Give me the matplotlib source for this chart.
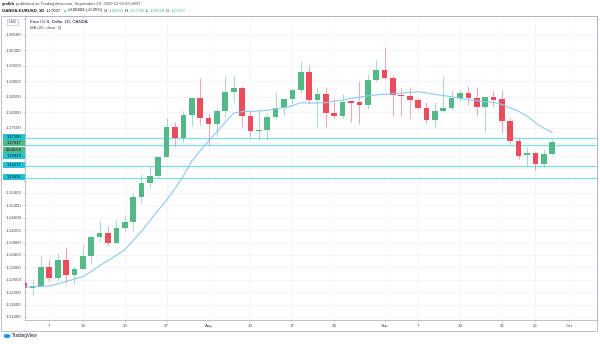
import matplotlib.pyplot as plt
from matplotlib.patches import Rectangle, Ellipse
import numpy as np

# ---- data ----
dates = ['Jul 2', 'Jul 3', 'Jul 6', 'Jul 7', 'Jul 8', 'Jul 9', 'Jul 10', 'Jul 13', 'Jul 14',
         'Jul 15', 'Jul 16', 'Jul 17', 'Jul 20', 'Jul 21', 'Jul 22', 'Jul 23', 'Jul 24',
         'Jul 27', 'Jul 28', 'Jul 29', 'Jul 30', 'Jul 31', 'Aug 3', 'Aug 4', 'Aug 5', 'Aug 6',
         'Aug 7', 'Aug 10', 'Aug 11', 'Aug 12', 'Aug 13', 'Aug 14', 'Aug 17', 'Aug 18',
         'Aug 19', 'Aug 20', 'Aug 21', 'Aug 24', 'Aug 25', 'Aug 26', 'Aug 27', 'Aug 28',
         'Aug 31', 'Sep 1', 'Sep 2', 'Sep 3', 'Sep 4', 'Sep 7', 'Sep 8', 'Sep 9', 'Sep 10',
         'Sep 11', 'Sep 14', 'Sep 15', 'Sep 16', 'Sep 17', 'Sep 18', 'Sep 21', 'Sep 22',
         'Sep 23', 'Sep 24', 'Sep 25', 'Sep 28', 'Sep 29']
future_dates = ['Sep 30', 'Oct 1']

opens = [1.1248, 1.1232, 1.1240, 1.1302, 1.1266, 1.1325, 1.1276, 1.1294, 1.1338, 1.1397,
         1.1410, 1.1380, 1.1426, 1.1445, 1.1526, 1.1571, 1.1596, 1.1656, 1.1752, 1.1716,
         1.1792, 1.1847, 1.1781, 1.1763, 1.1804, 1.1865, 1.1879, 1.1788, 1.1739, 1.1742,
         1.1785, 1.1815, 1.1842, 1.1872, 1.1931, 1.1839, 1.1860, 1.1799, 1.1788, 1.1836,
         1.1833, 1.1823, 1.1903, 1.1935, 1.1912, 1.1856, 1.1852, 1.1839, 1.1815, 1.1774,
         1.1804, 1.1815, 1.1847, 1.1863, 1.1847, 1.1817, 1.1849, 1.1843, 1.1772, 1.1707,
         1.1661, 1.1668, 1.1632, 1.1665]
highs = [1.1296, 1.1258, 1.1337, 1.1326, 1.1347, 1.1367, 1.1302, 1.1372, 1.1400, 1.1450,
         1.1434, 1.1452, 1.1468, 1.1540, 1.1600, 1.1626, 1.1660, 1.1781, 1.1770, 1.1805,
         1.1850, 1.1910, 1.1795, 1.1815, 1.1916, 1.1917, 1.1885, 1.1805, 1.1810, 1.1797,
         1.1865, 1.1839, 1.1874, 1.1966, 1.1952, 1.1883, 1.1883, 1.1842, 1.1858, 1.1838,
         1.1900, 1.1922, 1.1968, 1.2011, 1.1920, 1.1878, 1.1881, 1.1845, 1.1833, 1.1832,
         1.1917, 1.1873, 1.1871, 1.1886, 1.1883, 1.1850, 1.1873, 1.1871, 1.1782, 1.1717,
         1.1688, 1.1676, 1.1683, 1.17145]
lows = [1.1228, 1.1212, 1.1235, 1.1255, 1.1255, 1.1250, 1.1243, 1.1290, 1.1312, 1.1385,
        1.1370, 1.1378, 1.1418, 1.1421, 1.1506, 1.1555, 1.1590, 1.1655, 1.1690, 1.1705,
        1.1755, 1.1760, 1.1696, 1.1725, 1.1780, 1.1834, 1.1753, 1.1720, 1.1711, 1.1711,
        1.1783, 1.1788, 1.1828, 1.1862, 1.1826, 1.1753, 1.1753, 1.1783, 1.1780, 1.1769,
        1.1762, 1.1811, 1.1900, 1.1907, 1.1789, 1.1788, 1.1780, 1.1809, 1.1765, 1.1752,
        1.1800, 1.1807, 1.1835, 1.1822, 1.1787, 1.1737, 1.1821, 1.1732, 1.1698, 1.1650,
        1.1626, 1.1613, 1.1622, 1.16618]
closes = [1.1234, 1.1240, 1.1302, 1.1266, 1.1325, 1.1276, 1.1294, 1.1338, 1.1397, 1.1410,
          1.1380, 1.1426, 1.1445, 1.1526, 1.1571, 1.1596, 1.1656, 1.1752, 1.1716, 1.1792,
          1.1847, 1.1781, 1.1763, 1.1804, 1.1865, 1.1879, 1.1788, 1.1739, 1.1742, 1.1785,
          1.1815, 1.1842, 1.1872, 1.1931, 1.1839, 1.1860, 1.1799, 1.1788, 1.1834, 1.1831,
          1.1823, 1.1903, 1.1935, 1.1912, 1.1856, 1.1852, 1.1839, 1.1815, 1.1774, 1.1804,
          1.1815, 1.1847, 1.1863, 1.1847, 1.1817, 1.1849, 1.1840, 1.1772, 1.1707, 1.1659,
          1.1668, 1.1632, 1.1664, 1.17037]
ma20 = [1.1237, 1.1238, 1.1239, 1.1240, 1.1247, 1.1255, 1.1262, 1.1270, 1.1287, 1.1305,
        1.1322, 1.1339, 1.1357, 1.1386, 1.1416, 1.1450, 1.1484, 1.1517, 1.1554, 1.1595,
        1.1643, 1.1676, 1.1707, 1.1737, 1.1768, 1.1797, 1.1802, 1.1803, 1.1804, 1.1806,
        1.1811, 1.1815, 1.1821, 1.1831, 1.1830, 1.1830, 1.1831, 1.1836, 1.1839, 1.1845,
        1.1849, 1.1853, 1.1856, 1.1858, 1.1860, 1.1862, 1.1864, 1.1866, 1.1862, 1.1858,
        1.1854, 1.1850, 1.1845, 1.1840, 1.1837, 1.1834, 1.1832, 1.1825, 1.1814, 1.1803,
        1.1788, 1.1766, 1.1749, 1.1735]

h_levels = [1.17180, 1.16929, 1.16272, 1.15891]

tick_dates = ['Jul 7', 'Jul 13', 'Jul 20', 'Jul 27', 'Aug 3', 'Aug 10', 'Aug 17', 'Aug 24',
              'Sep 1', 'Sep 7', 'Sep 14', 'Sep 21', 'Sep 25', 'Oct 1']
tick_labels = ['7', '13', '20', '27', 'Aug', '10', '17', '24', 'Sep', '7', '14', '21', '25', 'Oct']

price_ticks = [1.114, 1.118, 1.122, 1.126, 1.130, 1.134, 1.138, 1.142, 1.146, 1.150, 1.154,
               1.158, 1.162, 1.166, 1.170, 1.175, 1.180, 1.185, 1.190, 1.195, 1.200, 1.205, 1.210]
hidden_ticks = [1.158, 1.162, 1.166, 1.170, 1.210]

# ---- style ----
UP = '#53b987'
DOWN = '#eb4d5c'
MA_COL = '#8ec9f2'
LEVEL_COL = '#7ddde8'
BOX_COL = '#22c3d6'
GRID = '#eef1f6'
FRAME = '#b2b5be'
TXT = '#4a4d57'

plt.rcParams['font.family'] = ['Liberation Sans', 'DejaVu Sans']

W, H = 600, 344


def fx(px):
    return px / W


def fy(py):
    return 1 - py / H


fig = plt.figure(figsize=(6, 3.44), dpi=100)
ax = fig.add_axes([fx(25), fy(320), (597 - 25) / W, (320 - 16) / H])

calendar = dates + future_dates
xs = np.arange(len(dates))

# candles
for x, o, h, l, c in zip(xs, opens, highs, lows, closes):
    col = UP if c >= o else DOWN
    ax.vlines(x, l, h, color=col, lw=0.7, alpha=0.5, zorder=3)
    body = max(abs(c - o), 0.00025)
    ax.bar(x, body, bottom=min(o, c), width=0.68, color=col, lw=0, zorder=4)

# moving average
ax.plot(xs, ma20, color=MA_COL, lw=0.8, zorder=5)

# horizontal levels
for lv in h_levels:
    ax.axhline(lv, color=LEVEL_COL, lw=0.9, zorder=2)

ax.set_xlim(0.1, 68.35)
ax.set_ylim(1.11303, 1.21103)

ax.set_xticks([calendar.index(d) for d in tick_dates], tick_labels)
ax.set_yticks(price_ticks,
              ['' if p in hidden_ticks else '%.5f' % p for p in price_ticks])
ax.tick_params(axis='both', labelsize=3.2, colors=FRAME, labelcolor=TXT,
               length=1.5, width=0.4, pad=1.2)
ax.grid(True, color=GRID, lw=0.5, zorder=0)
ax.set_axisbelow(True)
for s in ax.spines.values():
    s.set_color(FRAME)
    s.set_linewidth(0.6)

# outer frame around price and time scales
fig.add_artist(Rectangle((fx(1), fy(331)), (597 - 1) / W, (331 - 16) / H,
                         transform=fig.transFigure, fill=False, ec=FRAME, lw=0.6))

# price labels on the scale
axis_boxes = [('1.17180', 136.7, BOX_COL), ('1.17037', 143.2, UP), ('08:04:58', 149.6, UP),
              ('1.16929', 156.0, BOX_COL), ('1.16272', 165.0, BOX_COL), ('1.15891', 176.7, BOX_COL)]
for label, yp, col in axis_boxes:
    fig.add_artist(Rectangle((fx(3), fy(yp + 3.1)), 22 / W, 6.2 / H,
                             transform=fig.transFigure, fc=col, ec='none', zorder=6))
    fig.text(fx(14), fy(yp), label, fontsize=3.0, color='#131722', ha='center', va='center',
             zorder=7)

# USD box
fig.text(fx(12.5), fy(22), 'USD', fontsize=2.9, color=TXT, ha='center', va='center',
         bbox=dict(boxstyle='square,pad=0.3', fc='white', ec=FRAME, lw=0.4))

# legend inside pane
fig.text(fx(30), fy(21.5), 'Euro / U.S. Dollar, 1D, OANDA', fontsize=3.1, color='#131722',
         va='center')
fig.text(fx(30), fy(27.5), 'MA (20, close, 0)', fontsize=3.1, color=TXT, va='center')

# header lines
renderer = fig.canvas.get_renderer()


def seq_text(x, y, pieces, size):
    for s, col, weight, gap in pieces:
        t = fig.text(fx(x), fy(y), s, fontsize=size, color=col, fontweight=weight, va='center')
        x += t.get_window_extent(renderer=renderer).width + gap


seq_text(2, 4, [('yeelkh', '#131722', 'bold', 1.0),
                ('published on TradingView.com, September 29, 2020 12:55:03 GMT', TXT, 'normal', 0)], 3.1)
seq_text(2, 10.5, [('OANDA:EURUSD, 1D', '#131722', 'bold', 1.2),
                   ('1.17037', '#131722', 'normal', 1.0),
                   ('\u25b2', UP, 'normal', 1.0),
                   ('+0.00403 (+0.35%)', '#131722', 'normal', 1.4),
                   ('O:', '#131722', 'normal', 0.2), ('1.16650', UP, 'normal', 1.2),
                   ('H:', '#131722', 'normal', 0.2), ('1.17145', UP, 'normal', 1.2),
                   ('L:', '#131722', 'normal', 0.2), ('1.16618', UP, 'normal', 1.2),
                   ('C:', '#131722', 'normal', 0.2), ('1.17037', UP, 'normal', 0)], 3.1)

# TradingView logo
fig.add_artist(Ellipse((fx(7), fy(336)), 7 / W, 4 / H, transform=fig.transFigure,
                       fc='#2196f3', ec='none'))
fig.text(fx(12), fy(336), 'TradingView', fontsize=3.3, color='#131722', va='center')

fig.savefig('out.png', dpi=100, facecolor='white')
